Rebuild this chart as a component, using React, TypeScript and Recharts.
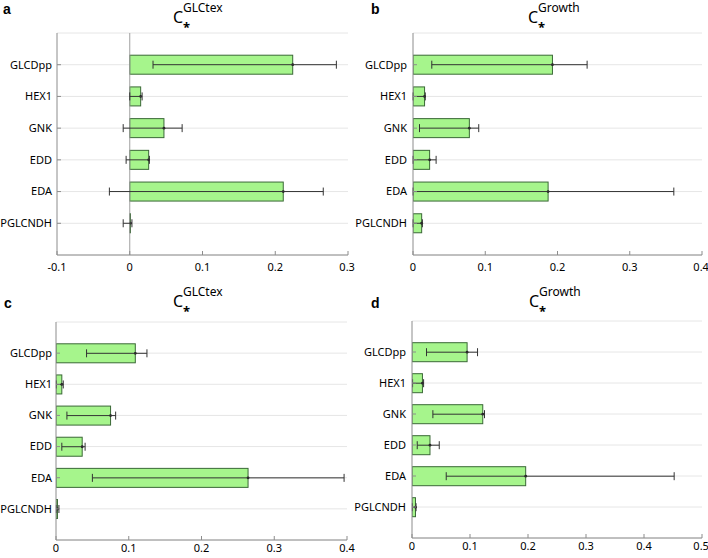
import { Bar, BarChart, CartesianGrid, ErrorBar, ReferenceLine, XAxis, YAxis } from 'recharts';

const categories = ['GLCDpp', 'HEX1', 'GNK', 'EDD', 'EDA', 'PGLCNDH'];

// a: C*^GLCtex
const aValues = [0.224, 0.015, 0.047, 0.026, 0.211, 0.001];
const aLow = [0.032, 0.0, -0.009, -0.005, -0.028, -0.009];
const aHigh = [0.284, 0.017, 0.072, 0.027, 0.266, 0.003];
const aTicks = [-0.1, 0, 0.1, 0.2, 0.3];

// b: C*^Growth
const bValues = [0.193, 0.016, 0.078, 0.023, 0.187, 0.012];
const bLow = [0.026, 0.0, 0.009, 0.0, 0.0, 0.0];
const bHigh = [0.241, 0.017, 0.091, 0.032, 0.361, 0.013];
const bTicks = [0, 0.1, 0.2, 0.3, 0.4];

// c: C*^GLCtex
const cValues = [0.109, 0.008, 0.075, 0.036, 0.264, 0.002];
const cLow = [0.042, 0.0005, 0.015, 0.008, 0.05, 0.0005];
const cHigh = [0.125, 0.01, 0.082, 0.04, 0.396, 0.004];
const cTicks = [0, 0.1, 0.2, 0.3, 0.4];

// d: C*^Growth
const dValues = [0.095, 0.018, 0.122, 0.031, 0.196, 0.006];
const dLow = [0.025, 0.001, 0.036, 0.009, 0.059, 0.0006];
const dHigh = [0.113, 0.02, 0.125, 0.047, 0.452, 0.007];
const dTicks = [0, 0.1, 0.2, 0.3, 0.4, 0.5];

const FILL = '#a6f58c';
const EDGE = '#3a6836';
const BOX = '#8c8c8c';
const FONT = '"Noto Sans", sans-serif';

const rows = (v: number[], lo: number[], hi: number[]) =>
    categories.map((name, i) => ({ name, value: v[i], err: [v[i] - lo[i], hi[i] - v[i]] }));

const fmt = (v: number) => (v === 0 ? '0' : String(v));

const BarShape = (props: any) => {
    const { x, y, width, height } = props;
    return (
        <g>
            <rect x={x} y={y} width={Math.max(width, 0.5)} height={height} fill={FILL} stroke={EDGE} strokeWidth={1} />
            <circle cx={x + width} cy={y + height / 2} r={1.4} fill="#222" />
        </g>
    );
};

type PanelProps = {
    left: number;
    top: number;
    yWidth: number;
    yGap: number;
    mTop: number;
    mRight: number;
    xHeight: number;
    tickGap: number;
    data: any[];
    ticks: number[];
    zeroLine?: boolean;
};

function Panel({ left, top, yWidth, yGap, mTop, mRight, xHeight, tickGap, data, ticks, zeroLine }: PanelProps) {
    const plotH = 279 - mTop - xHeight;
    const pad = plotH / 14;
    const domain: [number, number] = [ticks[0], ticks[ticks.length - 1]];
    return (
        <div style={{ position: 'absolute', left, top }}>
            <BarChart
                width={354}
                height={279}
                data={data}
                layout="vertical"
                barCategoryGap="20%"
                margin={{ top: mTop, right: mRight, bottom: 0, left: 0 }}
            >
                <CartesianGrid horizontal={true} vertical={false} stroke="#e6e6e6" />
                <XAxis
                    type="number"
                    domain={domain}
                    ticks={ticks}
                    tickFormatter={fmt}
                    height={xHeight}
                    stroke={BOX}
                    tickSize={-4}
                    tickMargin={tickGap}
                    tick={{ fill: '#000', fontSize: 11, fontFamily: FONT }}
                    allowDataOverflow
                />
                <XAxis
                    xAxisId="top"
                    orientation="top"
                    type="number"
                    domain={domain}
                    ticks={ticks}
                    height={0}
                    stroke={BOX}
                    tickSize={-4}
                    tickFormatter={() => ''}
                />
                <YAxis
                    type="category"
                    dataKey="name"
                    width={yWidth}
                    stroke={BOX}
                    tickSize={-4}
                    tickMargin={yGap}
                    padding={{ top: pad, bottom: pad }}
                    tick={{ fill: '#000', fontSize: 11, fontFamily: FONT }}
                />
                <YAxis
                    yAxisId="right"
                    orientation="right"
                    type="category"
                    dataKey="name"
                    width={0}
                    stroke={BOX}
                    tickSize={-4}
                    padding={{ top: pad, bottom: pad }}
                    tickFormatter={() => ''}
                />
                {zeroLine && <ReferenceLine x={0} stroke="#a0a0a0" strokeWidth={1} />}
                <Bar dataKey="value" shape={BarShape} isAnimationActive={false}>
                    <ErrorBar dataKey="err" direction="x" width={4} stroke="#333" strokeWidth={1} />
                </Bar>
            </BarChart>
        </div>
    );
}

function Title({ left, top, sup }: { left: number; top: number; sup: string }) {
    return (
        <div style={{ position: 'absolute', left, top, fontFamily: FONT, color: '#000', lineHeight: 1 }}>
            <span style={{ position: 'absolute', left: 0, top: 7, fontSize: 16 }}>C</span>
            <span style={{ position: 'absolute', left: 10, top: 0, fontSize: 12, whiteSpace: 'nowrap' }}>{sup}</span>
            <span style={{ position: 'absolute', left: 10, top: 19, fontSize: 13, fontWeight: 'bold' }}>*</span>
        </div>
    );
}

function Label({ left, top, text }: { left: number; top: number; text: string }) {
    return (
        <div style={{ position: 'absolute', left, top, fontFamily: '"Liberation Sans", Arial, sans-serif', fontWeight: 'bold', fontSize: 14, lineHeight: 1 }}>
            {text}
        </div>
    );
}

export default function App() {
    return (
        <div style={{ position: 'relative', width: 708, height: 558, background: '#fff', overflow: 'hidden' }}>
            <style>{'body{margin:0}.recharts-surface{overflow:visible}'}</style>
            <Panel left={0} top={0} yWidth={57} yGap={9} mTop={33} mRight={6} xHeight={24} tickGap={12} data={rows(aValues, aLow, aHigh)} ticks={aTicks} zeroLine />
            <Panel left={354} top={0} yWidth={59} yGap={10} mTop={33} mRight={6} xHeight={24} tickGap={12} data={rows(bValues, bLow, bHigh)} ticks={bTicks} />
            <Panel left={0} top={279} yWidth={56} yGap={8} mTop={43} mRight={7} xHeight={18} tickGap={8} data={rows(cValues, cLow, cHigh)} ticks={cTicks} />
            <Panel left={354} top={279} yWidth={58} yGap={10} mTop={42} mRight={6} xHeight={20} tickGap={8} data={rows(dValues, dLow, dHigh)} ticks={dTicks} />
            <Label left={3} top={2} text="a" />
            <Label left={371} top={2} text="b" />
            <Label left={4} top={296} text="c" />
            <Label left={371} top={296} text="d" />
            <Title left={173} top={2} sup="GLCtex" />
            <Title left={528} top={2} sup="Growth" />
            <Title left={173} top={286} sup="GLCtex" />
            <Title left={529} top={286} sup="Growth" />
        </div>
    );
}
